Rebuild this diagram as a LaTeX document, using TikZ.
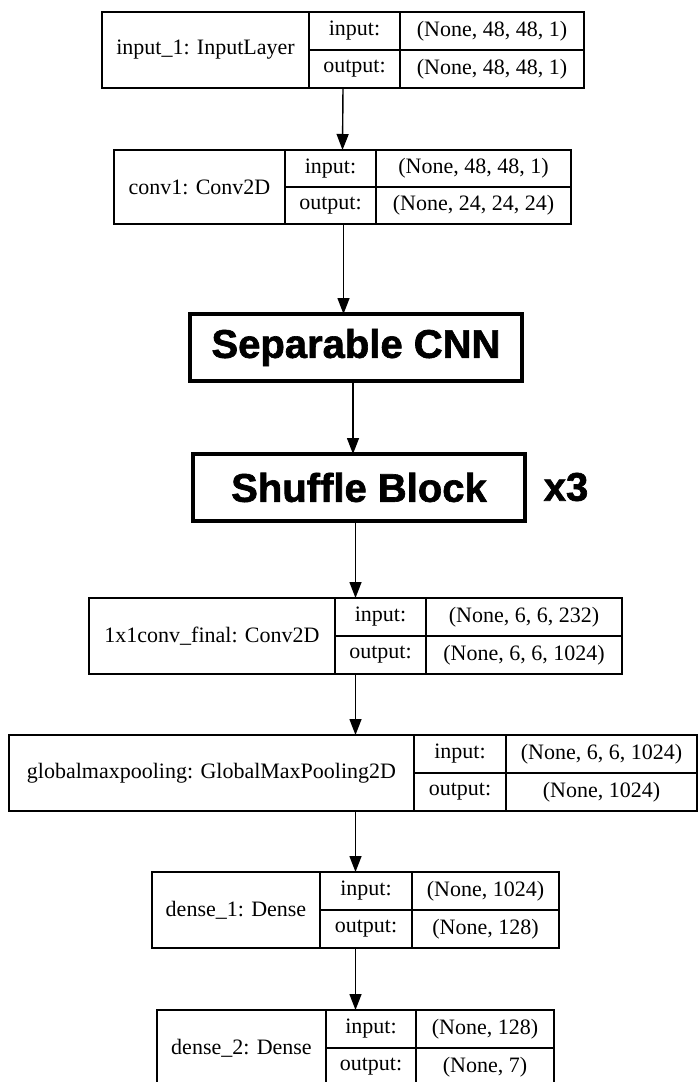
\documentclass[tikz,border=0pt]{standalone}
\usepackage{fontspec}
\setmainfont{Liberation Serif}
\setsansfont{Liberation Sans}
\newfontfamily\heavyfont{Liberation Sans Bold}[FakeBold=1.6]
\usetikzlibrary{arrows.meta, positioning}

\tikzset{
  cell/.style={draw, line width=1.4pt, inner sep=0pt, outer sep=0pt,
    anchor=north west, font=\fontsize{22}{26}\selectfont},
  frame/.style={cell},
  bigbox/.style={draw, line width=4pt, inner sep=0pt, outer sep=0pt,
    minimum width=332pt, minimum height=67pt,
    font=\heavyfont\fontsize{40}{44}\selectfont},
  flow/.style={-{Triangle[length=16pt, width=12pt]}, line width=1.4pt}
}

\begin{document}
\begin{tikzpicture}[x=1pt, y=-1pt]
   \clip (0,0) rectangle (698,1082);
   \fill[white] (0,0) rectangle (698,1082);
   % input_1
   \node[frame, minimum width=482pt, minimum height=76pt] (inp) at (102,12) {};
   \node[cell, minimum width=207pt, minimum height=76pt] (inpName) at (102,12) {input\_1: InputLayer};
   \node[cell, minimum width=91pt, minimum height=38pt] (inpInL) at (309,12) {input:};
   \node[cell, minimum width=91pt, minimum height=38pt] (inpOutL) at (309,50) {output:};
   \node[cell, minimum width=184pt, minimum height=38pt] (inpInV) at (400,12) {(None, 48, 48, 1)};
   \node[cell, minimum width=184pt, minimum height=38pt] (inpOutV) at (400,50) {(None, 48, 48, 1)};
   % conv1
   \node[frame, minimum width=457pt, minimum height=74pt] (conv) at (114,150) {};
   \node[cell, minimum width=171pt, minimum height=74pt] (convName) at (114,150) {conv1: Conv2D};
   \node[cell, minimum width=91pt, minimum height=37pt] (convInL) at (285,150) {input:};
   \node[cell, minimum width=91pt, minimum height=37pt] (convOutL) at (285,187) {output:};
   \node[cell, minimum width=195pt, minimum height=37pt] (convInV) at (376,150) {(None, 48, 48, 1)};
   \node[cell, minimum width=195pt, minimum height=37pt] (convOutV) at (376,187) {(None, 24, 24, 24)};
   % blocks
   \node[bigbox] (sep) at (356,347.5) {Separable CNN};
   \node[bigbox] (shuf) at (359,487.5) {Shuffle Block};
   \node[font=\heavyfont\fontsize{40}{44}\selectfont] (rep) at (566,487) {x3};
   % 1x1conv_final
   \node[frame, minimum width=533pt, minimum height=76pt] (fin) at (89,598) {};
   \node[cell, minimum width=246pt, minimum height=76pt] (finName) at (89,598) {1x1conv\_final: Conv2D};
   \node[cell, minimum width=91pt, minimum height=38pt] (finInL) at (335,598) {input:};
   \node[cell, minimum width=91pt, minimum height=38pt] (finOutL) at (335,636) {output:};
   \node[cell, minimum width=196pt, minimum height=38pt] (finInV) at (426,598) {(None, 6, 6, 232)};
   \node[cell, minimum width=196pt, minimum height=38pt] (finOutV) at (426,636) {(None, 6, 6, 1024)};
   % globalmaxpooling
   \node[frame, minimum width=688pt, minimum height=76pt] (glob) at (9,735) {};
   \node[cell, minimum width=405pt, minimum height=76pt] (globName) at (9,735) {globalmaxpooling: GlobalMaxPooling2D};
   \node[cell, minimum width=92pt, minimum height=38pt] (globInL) at (414,735) {input:};
   \node[cell, minimum width=92pt, minimum height=38pt] (globOutL) at (414,773) {output:};
   \node[cell, minimum width=191pt, minimum height=38pt] (globInV) at (506,735) {(None, 6, 6, 1024)};
   \node[cell, minimum width=191pt, minimum height=38pt] (globOutV) at (506,773) {(None, 1024)};
   % dense_1
   \node[frame, minimum width=407pt, minimum height=76pt] (dense1) at (152,872) {};
   \node[cell, minimum width=168pt, minimum height=76pt] (dense1Name) at (152,872) {dense\_1: Dense};
   \node[cell, minimum width=92pt, minimum height=38pt] (dense1InL) at (320,872) {input:};
   \node[cell, minimum width=92pt, minimum height=38pt] (dense1OutL) at (320,910) {output:};
   \node[cell, minimum width=147pt, minimum height=38pt] (dense1InV) at (412,872) {(None, 1024)};
   \node[cell, minimum width=147pt, minimum height=38pt] (dense1OutV) at (412,910) {(None, 128)};
   % dense_2
   \node[frame, minimum width=397pt, minimum height=76pt] (dense2) at (157,1010) {};
   \node[cell, minimum width=169pt, minimum height=76pt] (dense2Name) at (157,1010) {dense\_2: Dense};
   \node[cell, minimum width=90pt, minimum height=38pt] (dense2InL) at (326,1010) {input:};
   \node[cell, minimum width=90pt, minimum height=38pt] (dense2OutL) at (326,1048) {output:};
   \node[cell, minimum width=138pt, minimum height=38pt] (dense2InV) at (416,1010) {(None, 128)};
   \node[cell, minimum width=138pt, minimum height=38pt] (dense2OutV) at (416,1048) {(None, 7)};
   % connectors
   \draw[flow] (inp.south) -- (conv.north);
   \draw[flow] ([xshift=1pt]conv.south) -- ([xshift=1pt]conv.south |- sep.north);
   \draw[flow] ([xshift=-3pt]sep.south) -- ([xshift=-3pt]sep.south |- shuf.north);
   \draw[flow] (fin.north |- shuf.south) -- (fin.north);
   \draw[flow] (fin.south) -- (fin.south |- glob.north);
   \draw[flow] (dense1.north |- glob.south) -- (dense1.north);
   \draw[flow] (dense1.south) -- (dense2.north);
\end{tikzpicture}
\end{document}
